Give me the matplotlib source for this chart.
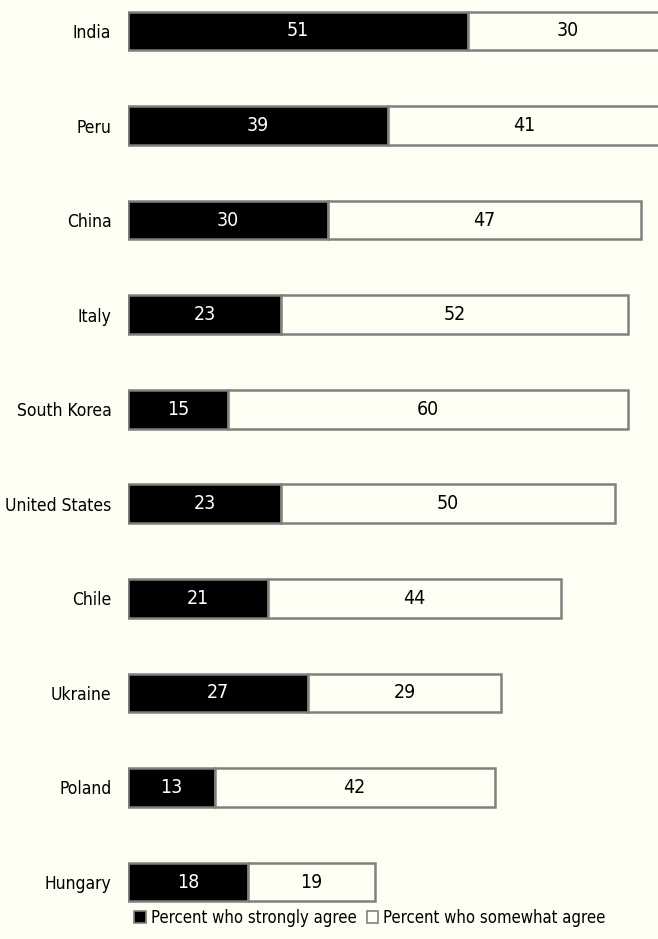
import matplotlib.pyplot as plt
from matplotlib.patches import Patch

countries = ["India", "Peru", "China", "Italy", "South Korea",
             "United States", "Chile", "Ukraine", "Poland", "Hungary"]
strongly = [51, 39, 30, 23, 15, 23, 21, 27, 13, 18]
somewhat = [30, 41, 47, 52, 60, 50, 44, 29, 42, 19]

bg = "#fefef2"
edge = "#808080"
plt.rcParams["font.family"] = ["DejaVu Sans"]
plt.rcParams["font.stretch"] = "condensed"

fig = plt.figure(figsize=(6.58, 9.39), dpi=100, facecolor=bg)
ax = fig.add_axes([128 / 658, 0, 530 / 658, 1])
ax.set_facecolor(bg)

ypos = list(range(len(countries)))
ax.barh(ypos, strongly, height=0.41, color="black", edgecolor=edge, linewidth=1.8)
ax.barh(ypos, somewhat, left=strongly, height=0.41, color=bg, edgecolor=edge, linewidth=1.8)

for y, s, w in zip(ypos, strongly, somewhat):
    ax.text(s / 2, y, str(s), ha="center", va="center", color="white", fontsize=14)
    ax.text(s + w / 2, y, str(w), ha="center", va="center", color="black", fontsize=14)

ax.set_xlim(0, 79.5)
ax.set_ylim(9 + 57 / 94.6, -31 / 94.6)
ax.set_yticks(ypos)
ax.set_yticklabels(countries, fontsize=12.5)
ax.tick_params(axis="y", length=0, pad=12)
ax.set_xticks([])
for sp in ax.spines.values():
    sp.set_visible(False)

handles = [Patch(facecolor="black", edgecolor=edge, linewidth=1.2),
           Patch(facecolor=bg, edgecolor=edge, linewidth=1.2)]
fig.legend(handles, ["Percent who strongly agree", "Percent who somewhat agree"],
           loc="center", bbox_to_anchor=(370 / 658, 1 - 918 / 939), ncol=2,
           frameon=False, fontsize=12, handlelength=0.7, handleheight=0.7,
           handletextpad=0.3, columnspacing=0.6)

fig.savefig("out.png", dpi=100, facecolor=bg)
